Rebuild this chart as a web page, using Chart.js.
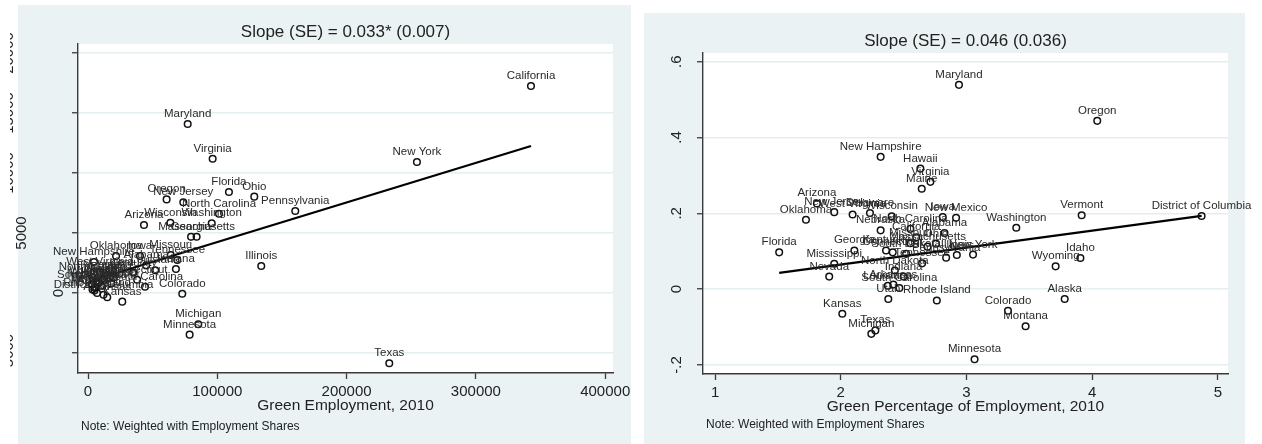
<!DOCTYPE html>
<html><head><meta charset="utf-8">
<script src="https://cdn.jsdelivr.net/npm/chart.js@4.4.1/dist/chart.umd.min.js"></script>
<style>
html,body{margin:0;padding:0;background:#fff;}
#wrap{position:relative;width:1262px;height:444px;overflow:hidden;background:#fff;}
canvas{position:absolute;top:0;}
#c1{left:0;} #c2{left:631px;}
</style></head><body>
<div id="wrap">
<canvas id="c1" width="631" height="444"></canvas>
<canvas id="c2" width="631" height="444"></canvas>
</div>
<script>
// ---------- LEFT PANEL DATA ----------
const leftStates = ["California","New York","Texas","Maryland","Virginia","Florida","Ohio","Pennsylvania","Oregon","New Jersey","North Carolina","Washington","Wisconsin","Arizona","Massachusetts","Georgia","Illinois","Colorado","Michigan","Minnesota","Oklahoma","Iowa","Missouri","Tennessee","Indiana","Alabama","Louisiana","Kentucky","Connecticut","South Carolina","New Hampshire","West Virginia","Nevada","New Mexico","Delaware","Rhode Island","Utah","Nebraska","Idaho","Maine","Hawaii","Vermont","Wyoming","Montana","Alaska","South Dakota","North Dakota","Mississippi","Arkansas","District of Columbia","Kansas"];
const leftGreenEmp = [342600,254400,233000,77100,96400,109000,128600,160300,60800,73700,101300,95700,63700,43300,84000,79700,134000,72900,85300,78600,21700,40200,64000,69100,68000,45000,52000,35000,38000,44100,4600,9300,12400,7700,5400,7000,20000,15000,10000,11000,8000,3500,4000,6000,5000,3000,3500,18000,14900,12000,26500];
const leftOutcome = [17250,10920,-5860,14080,11190,8420,8030,6830,7800,7560,6610,5810,5860,5670,4690,4690,2250,-60,-2610,-3470,3080,3080,3170,2750,2000,2300,1900,1700,1100,525,2580,1750,1080,750,420,0,1300,1500,600,1200,900,300,1000,500,200,700,1300,800,-360,-150,-720];
const leftFitX = [1000, 342600];
const leftFitY = [980, 12250];
const leftXTicks = [0, 100000, 200000, 300000, 400000];
const leftYTicks = [-5000, 0, 5000, 10000, 15000, 20000];
const leftYTickLabels = ["-5000", "0", "5000", "10000", "15000", "20000"];

// ---------- RIGHT PANEL DATA ----------
const rightStates = ["Maryland","Oregon","New Hampshire","Hawaii","Virginia","Maine","Arizona","Oklahoma","New Jersey","West Virginia","Delaware","Wisconsin","Iowa","New Mexico","Washington","Vermont","District of Columbia","Nebraska","North Carolina","Alabama","Florida","Georgia","Mississippi","Nevada","New York","Tennessee","Massachusetts","Kentucky","Missouri","Connecticut","South Dakota","Pennsylvania","Illinois","Ohio","North Dakota","Indiana","Louisiana","South Carolina","Arkansas","Utah","Rhode Island","Kansas","Texas","Michigan","Colorado","Montana","Minnesota","Idaho","Wyoming","Alaska","California"];
const rightGreenPct = [2.94,4.04,2.317,2.633,2.713,2.644,1.81,1.723,1.948,2.094,2.232,2.405,2.811,2.917,3.396,3.916,4.870,2.317,2.554,2.825,1.51,2.108,1.948,1.908,3.052,2.647,2.69,2.36,2.554,2.413,2.52,2.838,2.923,2.757,2.43,2.50,2.374,2.466,2.418,2.378,2.764,2.012,2.275,2.243,3.330,3.470,3.064,3.906,3.709,3.781,2.60];
const rightOutcome = [0.539,0.444,0.349,0.318,0.283,0.265,0.226,0.183,0.203,0.197,0.201,0.192,0.190,0.188,0.162,0.195,0.193,0.155,0.159,0.148,0.097,0.102,0.067,0.033,0.091,0.068,0.112,0.102,0.121,0.097,0.093,0.083,0.090,0.120,0.049,0.033,0.009,0.003,0.012,-0.026,-0.030,-0.065,-0.109,-0.118,-0.057,-0.098,-0.185,0.082,0.060,-0.026,0.137];
const rightFitX = [1.51, 4.87];
const rightFitY = [0.043, 0.193];
const rightXTicks = [1, 2, 3, 4, 5];
const rightYTicks = [-0.2, 0, 0.2, 0.4, 0.6];
const rightYTickLabels = ["-.2", "0", ".2", ".4", ".6"];

// ---------- STYLE ----------
const FONT = "'Liberation Sans', Arial, Helvetica, sans-serif";
const PANEL = '#eaf2f3';
const GRID = '#e4edef';
const AXIS = '#3a3a3a';
const TEXT = '#222222';

function pts(xs, ys) { return xs.map((x, i) => ({x: x, y: ys[i]})); }

function makePlugin(o) {
  return {
    id: 'deco' + o.key,
    beforeDraw(chart) {
      const ctx = chart.ctx, ca = chart.chartArea;
      ctx.save();
      ctx.fillStyle = PANEL;
      ctx.fillRect(o.panel[0], o.panel[1], o.panel[2], o.panel[3]);
      ctx.fillStyle = '#ffffff';
      ctx.fillRect(ca.left, ca.top, ca.right - ca.left, ca.bottom - ca.top);
      ctx.restore();
    },
    afterDatasetsDraw(chart) {
      const ctx = chart.ctx;
      const meta = chart.getDatasetMeta(0);
      ctx.save();
      ctx.font = "11.5px " + FONT;
      ctx.fillStyle = '#2a2a2a';
      ctx.textAlign = 'center';
      ctx.textBaseline = 'alphabetic';
      meta.data.forEach((el, i) => {
        ctx.fillText(o.names[i], el.x, el.y - 7);
      });
      ctx.restore();
    },
    afterDraw(chart) {
      const ctx = chart.ctx;
      const ys = chart.scales.y;
      ctx.save();
      ctx.font = "15px " + FONT;
      ctx.fillStyle = TEXT;
      ctx.textAlign = 'center';
      ctx.textBaseline = 'middle';
      o.yTicks.forEach((v, i) => {
        const py = ys.getPixelForValue(v);
        const lx = o.yLabelX(v);
        ctx.save();
        if (o.yClip && o.yClip(v)) {
          ctx.beginPath();
          ctx.rect(10, 0, 8, chart.height);
          ctx.clip();
        }
        ctx.translate(lx, py);
        ctx.rotate(-Math.PI / 2);
        ctx.fillText(o.yLabels[i], 0, 0);
        ctx.restore();
      });
      ctx.font = "12px " + FONT;
      ctx.textAlign = 'left';
      ctx.fillStyle = TEXT;
      ctx.fillText('Note: Weighted with Employment Shares', o.noteX, o.noteY);
      ctx.restore();
    }
  };
}

function makeChart(id, o) {
  return new Chart(document.getElementById(id), {
    type: 'scatter',
    data: {
      datasets: [
        {
          data: pts(o.xs, o.ys),
          pointRadius: 3.3, pointHoverRadius: 3.3,
          pointBorderWidth: 1.5, pointHoverBorderWidth: 1.5,
          borderColor: '#111', backgroundColor: 'rgba(0,0,0,0)',
          showLine: false
        },
        {
          data: pts(o.fitX, o.fitY),
          showLine: true, borderColor: '#000', borderWidth: 2.3,
          pointRadius: 0, pointHoverRadius: 0, fill: false
        }
      ]
    },
    options: {
      responsive: false, animation: false, events: [],
      layout: { padding: { left: 0, right: o.padRight, top: 0, bottom: 0 } },
      plugins: {
        legend: { display: false }, tooltip: { enabled: false },
        title: {
          display: true, text: o.title, fullSize: false, color: TEXT,
          font: { family: FONT, size: 17, weight: 'normal', lineHeight: 1.2 },
          padding: { top: o.titleTop, bottom: o.titleBottom }
        }
      },
      scales: {
        x: {
          type: 'linear', min: o.xMin, max: o.xMax,
          afterBuildTicks: s => { s.ticks = o.xTicks.map(v => ({ value: v })); },
          afterFit: s => { s.height = o.xHeight; s.paddingLeft = 0; s.paddingRight = 0; },
          ticks: { callback: v => String(v), color: TEXT, font: { family: FONT, size: 15 }, padding: 4, maxRotation: 0, minRotation: 0, autoSkip: false },
          grid: { drawOnChartArea: false, tickLength: 6, tickColor: AXIS, tickWidth: 1.3 },
          border: { display: true, color: AXIS, width: 1.4 },
          title: { display: true, text: o.xTitle, color: TEXT, font: { family: FONT, size: 15.5, lineHeight: 1.2 }, padding: { top: 0, bottom: o.xTitlePad } }
        },
        y: {
          type: 'linear', min: o.yMin, max: o.yMax,
          afterBuildTicks: s => { s.ticks = o.yTicks.map(v => ({ value: v })); },
          afterFit: s => { s.width = o.yWidth; s.paddingTop = 0; s.paddingBottom = 0; },
          ticks: { display: false },
          grid: { color: GRID, lineWidth: 1.5, tickLength: 6, tickColor: AXIS, tickWidth: 1.3 },
          border: { display: true, color: AXIS, width: 1.4 }
        }
      }
    },
    plugins: [makePlugin(o)]
  });
}

makeChart('c1', {
  key: 'L', names: leftStates, xs: leftGreenEmp, ys: leftOutcome, fitX: leftFitX, fitY: leftFitY,
  title: 'Slope (SE) = 0.033* (0.007)', titleTop: 21.8, titleBottom: 1.8,
  xMin: -7734, xMax: 406032, yMin: -6667, yMax: 20750,
  xTicks: leftXTicks, yTicks: leftYTicks, yLabels: leftYTickLabels,
  xTitle: 'Green Employment, 2010', xTitlePad: 28.7,
  xHeight: 71, yWidth: 78, padRight: 18,
  panel: [18, 5, 613, 439],
  yLabelX: v => (v === 0 ? 59 : (v === 5000 ? 21.5 : 9)),
  yClip: v => (v !== 0 && v !== 5000),
  noteX: 81, noteY: 427
});

makeChart('c2', {
  key: 'R', names: rightStates, xs: rightGreenPct, ys: rightOutcome, fitX: rightFitX, fitY: rightFitY,
  title: 'Slope (SE) = 0.046 (0.036)', titleTop: 30.8, titleBottom: 1.8,
  xMin: 0.904, xMax: 5.08, yMin: -0.224, yMax: 0.623,
  xTicks: rightXTicks, yTicks: rightYTicks, yLabels: rightYTickLabels,
  xTitle: 'Green Percentage of Employment, 2010', xTitlePad: 27.7,
  xHeight: 70, yWidth: 72, padRight: 34,
  panel: [13, 13, 601, 431],
  yLabelX: v => 46,
  yClip: null,
  noteX: 75, noteY: 425
});
</script>
</body></html>
